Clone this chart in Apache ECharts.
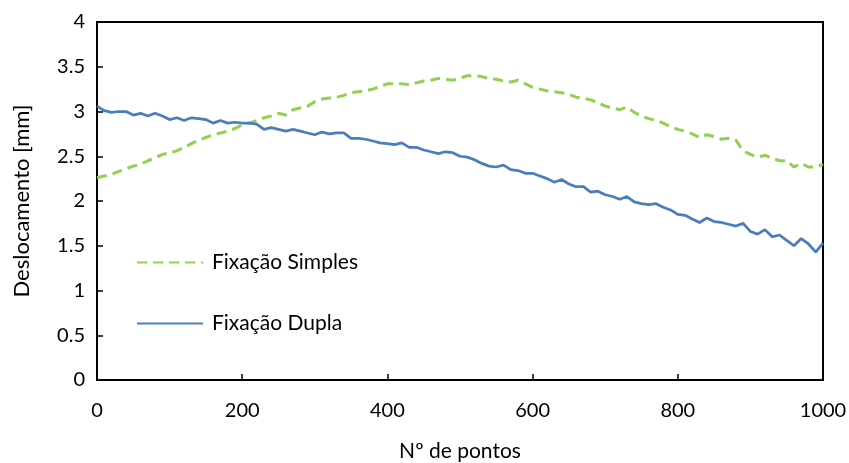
<!DOCTYPE html>
<html>
<head>
<meta charset="utf-8">
<script src="https://cdn.jsdelivr.net/npm/echarts@6/dist/echarts.min.js"></script>
<style>
  html, body { margin: 0; padding: 0; background: #fff; }
  #chart { width: 849px; height: 463px; }
</style>
</head>
<body>
<div id="chart"></div>
<script>
// pontos 0..1000 de 10 em 10
var pontos = [];
for (var i = 0; i <= 100; i++) pontos.push(i * 10);

var simples = [
  2.26, 2.28, 2.30, 2.33, 2.36, 2.39, 2.41, 2.45, 2.48, 2.52,
  2.54, 2.56, 2.60, 2.64, 2.68, 2.71, 2.74, 2.76, 2.78, 2.81,
  2.85, 2.87, 2.90, 2.93, 2.95, 2.98, 2.96, 3.02, 3.04, 3.06,
  3.11, 3.14, 3.15, 3.16, 3.18, 3.21, 3.22, 3.23, 3.25, 3.28,
  3.31, 3.31, 3.31, 3.30, 3.32, 3.34, 3.35, 3.37, 3.36, 3.35,
  3.37, 3.40, 3.40, 3.39, 3.37, 3.36, 3.34, 3.33, 3.35, 3.31,
  3.27, 3.25, 3.23, 3.22, 3.21, 3.19, 3.16, 3.15, 3.13, 3.10,
  3.06, 3.04, 3.02, 3.05, 2.99, 2.95, 2.92, 2.90, 2.87, 2.83,
  2.80, 2.78, 2.75, 2.71, 2.74, 2.72, 2.69, 2.70, 2.68, 2.56,
  2.52, 2.49, 2.51, 2.48, 2.45, 2.45, 2.38, 2.42, 2.38, 2.38,
  2.41
];

var dupla = [
  3.06, 3.01, 2.99, 3.00, 3.00, 2.96, 2.98, 2.95, 2.98, 2.95,
  2.91, 2.93, 2.90, 2.93, 2.92, 2.91, 2.87, 2.90, 2.87, 2.88,
  2.87, 2.87, 2.86, 2.80, 2.82, 2.80, 2.78, 2.80, 2.78, 2.76,
  2.74, 2.77, 2.75, 2.76, 2.76, 2.70, 2.70, 2.69, 2.67, 2.65,
  2.64, 2.63, 2.65, 2.60, 2.60, 2.57, 2.55, 2.53, 2.55, 2.54,
  2.50, 2.49, 2.46, 2.42, 2.39, 2.38, 2.40, 2.35, 2.34, 2.31,
  2.31, 2.28, 2.25, 2.21, 2.24, 2.19, 2.16, 2.16, 2.10, 2.11,
  2.07, 2.05, 2.02, 2.05, 1.99, 1.97, 1.96, 1.97, 1.93, 1.90,
  1.85, 1.84, 1.80, 1.76, 1.81, 1.77, 1.76, 1.74, 1.72, 1.75,
  1.66, 1.63, 1.68, 1.60, 1.62, 1.56, 1.50, 1.58, 1.52, 1.43,
  1.53
];

var nomes = ["Fixação Simples", "Fixação Dupla"];

function pares(ys) {
  return pontos.map(function (x, k) { return [x, ys[k]]; });
}

var chart = echarts.init(document.getElementById("chart"));
var fonte = "Lato, 'Noto Sans', sans-serif";

chart.setOption({
  animation: false,
  textStyle: { fontFamily: fonte, color: "#000" },
  grid: {
    left: 97, right: 26, top: 22, bottom: 83,
    outerBoundsMode: "none",
    containLabel: false,
    show: true, borderColor: "#000", borderWidth: 2
  },
  legend: {
    orient: "vertical",
    left: 131,
    top: 247,
    itemWidth: 66,
    itemHeight: 14,
    itemGap: 40,
    itemStyle: { opacity: 0 },
    textStyle: { fontFamily: fonte, fontSize: 21, color: "#000", padding: [0, 0, 0, 4] },
    data: nomes
  },
  xAxis: {
    type: "value",
    min: 0, max: 1000, interval: 200,
    name: "Nº de pontos",
    nameLocation: "middle",
    nameGap: 61,
    nameTextStyle: { fontSize: 21, color: "#000", fontFamily: fonte },
    axisLine: { lineStyle: { color: "#000", width: 2 } },
    axisTick: { inside: true, length: 6, lineStyle: { color: "#000", width: 1.5 } },
    axisLabel: {
      fontSize: 20, color: "#000", margin: 21, fontFamily: fonte,
      formatter: function (v) { return String(v); }
    },
    splitLine: { show: false }
  },
  yAxis: {
    type: "value",
    min: 0, max: 4, interval: 0.5,
    name: "Deslocamento [mm]",
    nameLocation: "middle",
    nameGap: 64,
    nameTextStyle: { fontSize: 22, color: "#000", fontFamily: fonte },
    axisLine: { lineStyle: { color: "#000", width: 2 } },
    axisTick: { inside: true, length: 6, lineStyle: { color: "#000", width: 1.5 } },
    axisLabel: { fontSize: 20, color: "#000", margin: 12, fontFamily: fonte },
    splitLine: { show: false }
  },
  series: [
    {
      name: nomes[0],
      type: "line",
      data: pares(simples),
      showSymbol: false,
      symbol: "none",
      lineStyle: { color: "#92D050", width: 3, type: [10, 6] },
      itemStyle: { color: "#92D050" }
    },
    {
      name: nomes[1],
      type: "line",
      data: pares(dupla),
      showSymbol: false,
      symbol: "none",
      lineStyle: { color: "#4A7EBB", width: 2.75 },
      itemStyle: { color: "#4A7EBB" }
    }
  ]
});
</script>
</body>
</html>
